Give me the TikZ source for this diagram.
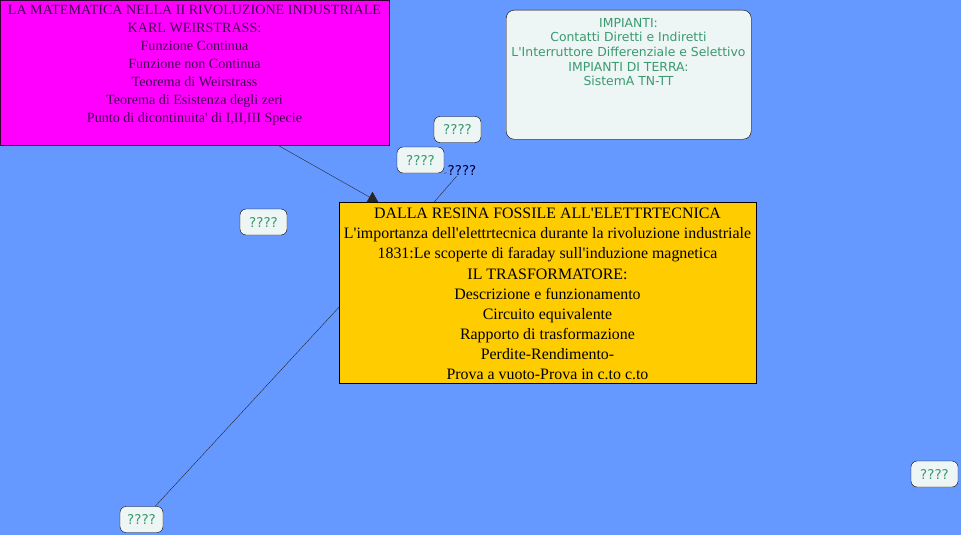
\documentclass[tikz,border=0pt]{standalone}
\usepackage{fontspec}
\setmainfont{Liberation Serif}
\newfontfamily\verd{DejaVu Sans}
\usetikzlibrary{positioning, arrows.meta}

\definecolor{bgblue}{HTML}{6699FF}
\definecolor{magbox}{HTML}{FF00FF}
\definecolor{magtext}{HTML}{400050}
\definecolor{orbox}{HTML}{FFCC00}
\definecolor{notefill}{HTML}{EEF5F5}
\definecolor{notetext}{HTML}{3A9A70}
\definecolor{lbltext}{HTML}{000033}
\newcommand{\ap}{\textquotesingle}

\begin{document}
\begin{tikzpicture}[x=1pt, y=-1pt,
    box/.style={draw, inner sep=0pt, anchor=north west},
    note/.style={draw, fill=notefill, rounded corners=6pt, inner sep=0pt,
      minimum width=47pt, minimum height=26pt, text=notetext,
      font=\verd\fontsize{13.5}{15}\selectfont},
    conn/.style={draw, thin, black!85}]
        \useasboundingbox (0,0) rectangle (961,535);
        \fill[bgblue] (0,0) rectangle (961,535);

        % matematica
        \node[box, fill=magbox, draw=black!80!magbox, minimum width=389pt, minimum height=145pt] (mat) at (0,0) {};
        \node[align=center, inner sep=0pt, text=magtext, font=\fontsize{14.1}{18}\selectfont] (mattext) at (194.5,65) {LA MATEMATICA NELLA II RIVOLUZIONE INDUSTRIALE\\ KARL WEIRSTRASS:\\ Funzione Continua\\ Funzione non Continua\\ Teorema di Weirstrass\\ Teorema di Esistenza degli zeri\\ Punto di dicontinuita\ap{} di I,II,III Specie};

        % impianti
        \node[box, fill=notefill, rounded corners=8pt, minimum width=245pt, minimum height=129pt] (imp) at (506,10) {};
        \node[align=center, inner sep=0pt, text=notetext, font=\verd\fontsize{12.4}{14.7}\selectfont] (imptext) at (628.5,52) {IMPIANTI:\\ Contatti Diretti e Indiretti\\ L\ap{}Interruttore Differenziale e Selettivo\\ IMPIANTI DI TERRA:\\ SistemA TN-TT};

        % resina
        \node[box, fill=orbox, minimum width=417pt, minimum height=181pt] (res) at (339,202) {};
        \node[align=center, inner sep=0pt, font=\fontsize{15.9}{20.1}\selectfont] (restext) at (547.5,294) {DALLA RESINA FOSSILE ALL\ap{}ELETTRTECNICA\\ L\ap{}importanza dell\ap{}elettrtecnica durante la rivoluzione industriale\\ 1831:Le scoperte di faraday sull\ap{}induzione magnetica\\ IL TRASFORMATORE:\\ Descrizione e funzionamento\\ Circuito equivalente\\ Rapporto di trasformazione\\ Perdite-Rendimento-\\ Prova a vuoto-Prova in c.to c.to};

        % note
        \node[note] (q1) at (457.5,129.5) {????};
        \node[note] (q2) at (420.5,160) {????};
        \node[note] (q3) at (263.5,222) {????};
        \node[note, minimum width=43pt] (q4) at (141.5,519.5) {????};
        \node[note] (q5) at (934.5,474) {????};
        \node[inner sep=1pt, text=lbltext, font=\verd\fontsize{13.5}{15}\selectfont] (lbl) at (462,170) {????};

        \draw[conn, -{Triangle[width=12pt,length=10pt]}] ([xshift=83.5pt]mat.south) -- ([xshift=-169.5pt]res.north);
        \draw[conn] ([xshift=-113.5pt]res.north) -- (lbl) -- (q2.south east);
        \draw[conn] ([yshift=-14.5pt]res.west) -- ([xshift=-8pt]q4.north east);
      \end{tikzpicture}
\end{document}
